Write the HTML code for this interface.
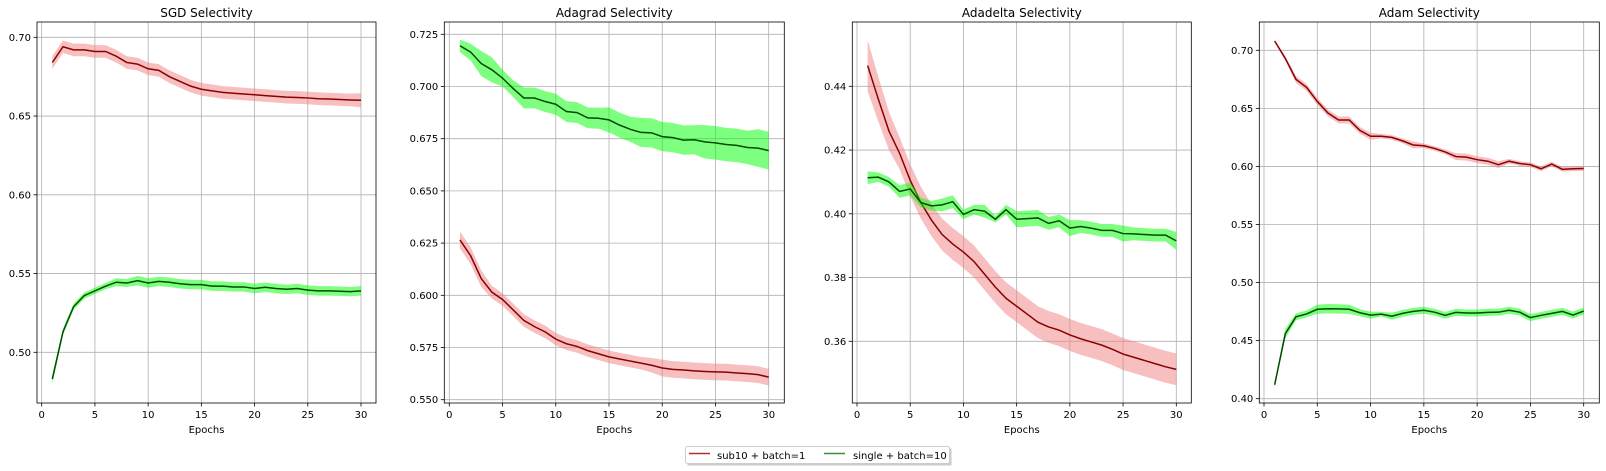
<!DOCTYPE html>
<html><head><meta charset="utf-8"><style>
body{margin:0;background:#fff;}
svg{display:block;font-family:"DejaVu Sans","Liberation Sans",sans-serif;}
</style></head><body>
<svg id="fig" width="1606" height="471" viewBox="0 0 1606 471" xmlns="http://www.w3.org/2000/svg">
<rect width="1606" height="471" fill="#fff"/>
<g>
<rect x="687.5" y="448.5" width="264" height="17" fill="#999" opacity="0.5"/>
<rect x="685.5" y="446.5" width="264" height="17" fill="#fff" stroke="#ccc" rx="2"/>
<line x1="689" y1="453.5" x2="710" y2="453.5" stroke="#a83232" stroke-width="1.5"/>
<text x="717" y="459" font-size="10" fill="#000">sub10 + batch=1</text>
<line x1="824" y1="453.5" x2="845" y2="453.5" stroke="#3a8a3a" stroke-width="1.5"/>
<text x="853" y="459" font-size="10" fill="#000">single + batch=10</text>
</g>
</svg>
<script>
const epochs = Array.from({length:30},(_,i)=>i+1);
const xTicks = [0,5,10,15,20,25,30];
const panelTitles = ["SGD Selectivity","Adagrad Selectivity","Adadelta Selectivity","Adam Selectivity"];

const sgdRed = [0.684,0.694,0.692,0.692,0.691,0.691,0.688,0.684,0.683,0.680,0.679,0.675,0.672,0.669,0.667,0.666,0.665,0.6645,0.664,0.6635,0.663,0.6625,0.662,0.6618,0.6615,0.661,0.6608,0.6605,0.6602,0.660];
const sgdRedStd = [0.004,0.004,0.004,0.004,0.004,0.004,0.004,0.004,0.004,0.004,0.004,0.004,0.004,0.004,0.004,0.004,0.004,0.004,0.004,0.004,0.004,0.004,0.004,0.004,0.004,0.004,0.004,0.004,0.004,0.0045];
const sgdGreen = [0.483,0.513,0.529,0.536,0.539,0.542,0.5445,0.544,0.5455,0.544,0.545,0.5445,0.5435,0.543,0.543,0.542,0.542,0.5415,0.5415,0.5405,0.5413,0.5405,0.540,0.5405,0.5395,0.539,0.539,0.5388,0.5385,0.539];
const sgdGreenStd = [0.003,0.002,0.002,0.002,0.002,0.002,0.0025,0.0025,0.003,0.003,0.003,0.003,0.003,0.003,0.003,0.003,0.003,0.003,0.003,0.003,0.003,0.003,0.003,0.003,0.003,0.003,0.003,0.003,0.003,0.003];

const adagradRed = [0.6265,0.619,0.608,0.6015,0.598,0.593,0.588,0.585,0.5825,0.579,0.5768,0.5755,0.5735,0.572,0.5705,0.5695,0.5685,0.5675,0.5665,0.5652,0.5645,0.5642,0.5638,0.5635,0.5633,0.5632,0.5628,0.5625,0.562,0.5608];
const adagradRedStd = [0.004,0.004,0.004,0.003,0.003,0.003,0.003,0.003,0.003,0.003,0.003,0.003,0.003,0.003,0.003,0.003,0.003,0.003,0.0035,0.004,0.004,0.004,0.004,0.004,0.004,0.004,0.004,0.004,0.004,0.004];
const adagradGreen = [0.7195,0.7165,0.711,0.708,0.704,0.699,0.6945,0.6945,0.6928,0.6915,0.688,0.6875,0.685,0.6848,0.684,0.6815,0.6795,0.678,0.6778,0.676,0.6755,0.6743,0.6745,0.6735,0.673,0.6722,0.6718,0.6708,0.6705,0.6693];
const adagradGreenStd = [0.003,0.004,0.006,0.006,0.004,0.004,0.005,0.005,0.005,0.005,0.005,0.005,0.005,0.005,0.006,0.006,0.006,0.007,0.007,0.007,0.007,0.007,0.007,0.008,0.008,0.008,0.008,0.008,0.009,0.009];

const adadeltaRed = [0.4465,0.436,0.426,0.419,0.4105,0.4035,0.398,0.3935,0.3905,0.388,0.385,0.381,0.377,0.3735,0.371,0.3685,0.366,0.3645,0.3635,0.362,0.3608,0.3598,0.3588,0.3575,0.356,0.355,0.354,0.353,0.352,0.3512];
const adadeltaRedStd = [0.008,0.007,0.006,0.005,0.005,0.005,0.005,0.005,0.005,0.005,0.005,0.005,0.005,0.005,0.005,0.005,0.005,0.005,0.005,0.005,0.005,0.005,0.005,0.005,0.005,0.005,0.005,0.005,0.005,0.005];
const adadeltaGreen = [0.4113,0.4115,0.410,0.407,0.4078,0.4035,0.4025,0.4028,0.4038,0.3998,0.4013,0.4008,0.3983,0.4013,0.3983,0.3985,0.3987,0.397,0.3978,0.3955,0.396,0.3955,0.3948,0.3948,0.3938,0.3937,0.3935,0.3933,0.3933,0.3915];
const adadeltaGreenStd = [0.002,0.0015,0.0015,0.002,0.002,0.0015,0.0015,0.002,0.002,0.0015,0.0015,0.002,0.001,0.0015,0.0025,0.0025,0.0025,0.002,0.002,0.0025,0.002,0.002,0.002,0.002,0.0025,0.002,0.002,0.002,0.002,0.0028];

const adamRed = [0.708,0.693,0.675,0.668,0.656,0.646,0.640,0.640,0.631,0.626,0.626,0.625,0.622,0.6185,0.6178,0.6155,0.6125,0.6085,0.608,0.6058,0.6045,0.6015,0.6045,0.6025,0.6015,0.598,0.602,0.5975,0.598,0.5982];
const adamRedStd = [0.001,0.002,0.003,0.003,0.003,0.003,0.003,0.003,0.003,0.003,0.002,0.002,0.002,0.003,0.002,0.002,0.002,0.003,0.003,0.003,0.003,0.003,0.002,0.002,0.002,0.002,0.002,0.002,0.002,0.002];
const adamGreen = [0.412,0.456,0.4705,0.473,0.477,0.4775,0.4773,0.477,0.474,0.472,0.4728,0.471,0.4735,0.4752,0.4762,0.4745,0.4718,0.4743,0.4738,0.4738,0.4743,0.4745,0.4762,0.4745,0.4698,0.4718,0.4735,0.4752,0.472,0.4755];
const adamGreenStd = [0.002,0.004,0.003,0.003,0.004,0.004,0.004,0.004,0.003,0.003,0.002,0.003,0.003,0.003,0.003,0.003,0.003,0.003,0.003,0.003,0.003,0.003,0.003,0.003,0.003,0.003,0.003,0.003,0.003,0.003];

const yTicksSGD = [0.50,0.55,0.60,0.65,0.70];
const yTicksAdagrad = [0.550,0.575,0.600,0.625,0.650,0.675,0.700,0.725];
const yTicksAdadelta = [0.36,0.38,0.40,0.42,0.44];
const yTicksAdam = [0.40,0.45,0.50,0.55,0.60,0.65,0.70];

const panels = [
 {key:'sgd',title:panelTitles[0],L:37,R:376,x0:41.7,x30:361,yA:0.70,pA:37.3,yB:0.50,pB:352.3,ticks:yTicksSGD,dec:2,red:sgdRed,redS:sgdRedStd,green:sgdGreen,greenS:sgdGreenStd},
 {key:'adagrad',title:panelTitles[1],L:444.3,R:784.3,x0:449.3,x30:768.7,yA:0.725,pA:34.3,yB:0.550,pB:399.7,ticks:yTicksAdagrad,dec:3,red:adagradRed,redS:adagradRedStd,green:adagradGreen,greenS:adagradGreenStd},
 {key:'adadelta',title:panelTitles[2],L:852.3,R:1191.3,x0:857,x30:1176.3,yA:0.44,pA:86.3,yB:0.36,pB:341.3,ticks:yTicksAdadelta,dec:2,red:adadeltaRed,redS:adadeltaRedStd,green:adadeltaGreen,greenS:adadeltaGreenStd},
 {key:'adam',title:panelTitles[3],L:1259.3,R:1599.3,x0:1264,x30:1583.7,yA:0.70,pA:50.3,yB:0.40,pB:398.7,ticks:yTicksAdam,dec:2,red:adamRed,redS:adamRedStd,green:adamGreen,greenS:adamGreenStd}
];
const TOP=22, BOT=403;
const NS='http://www.w3.org/2000/svg';
const svg=document.getElementById('fig');
function mk(tag,attrs,parent){const e=document.createElementNS(NS,tag);for(const k in attrs)e.setAttribute(k,attrs[k]);parent.appendChild(e);return e;}

panels.forEach(p=>{
  const xs=v=>p.x0+(v-0)*(p.x30-p.x0)/30;
  const ys=v=>p.pA+(p.yA-v)*(p.pB-p.pA)/(p.yA-p.yB);
  const g=mk('g',{},svg);
  
  
  // grid
  xTicks.forEach(t=>{
    const l=mk('line',{x1:xs(t),x2:xs(t),y1:TOP,y2:BOT,stroke:'#b0b0b0','stroke-width':0.8},g);
    
    
    const tk=mk('line',{x1:xs(t),x2:xs(t),y1:BOT,y2:BOT+3.5,stroke:'#000','stroke-width':0.8},g);
    
    
    const tx=mk('text',{x:xs(t),y:BOT+15,'font-size':10,'text-anchor':'middle',fill:'#000'},g);
    tx.textContent=t;
    
    
  });
  p.ticks.forEach(t=>{
    const y=ys(t);
    const l=mk('line',{x1:p.L,x2:p.R,y1:y,y2:y,stroke:'#b0b0b0','stroke-width':0.8},g);
    
    
    const tk=mk('line',{x1:p.L-3.5,x2:p.L,y1:y,y2:y,stroke:'#000','stroke-width':0.8},g);
    
    
    const tx=mk('text',{x:p.L-6,y:y+3.5,'font-size':10,'text-anchor':'end',fill:'#000'},g);
    tx.textContent=t.toFixed(p.dec);
    
    
  });
  // series
  [['red',p.red,p.redS,'#f08080','#8b0000'],['green',p.green,p.greenS,'#00ff00','#004d00']].forEach(([nm,m,s,fc,lc])=>{
    const up=epochs.map((e,i)=>xs(e)+','+ys(m[i]+s[i]));
    const dn=epochs.map((e,i)=>xs(e)+','+ys(m[i]-s[i])).reverse();
    const band=mk('polygon',{points:up.concat(dn).join(' '),fill:fc,'fill-opacity':0.5},g);
    
    
    const line=mk('polyline',{points:epochs.map((e,i)=>xs(e)+','+ys(m[i])).join(' '),fill:'none',stroke:lc,'stroke-width':1.5},g);
    
    
  });
  const fr=mk('rect',{x:p.L,y:TOP,width:p.R-p.L,height:BOT-TOP,fill:'none',stroke:'#000','stroke-width':0.8},g);
  
  
  const ti=mk('text',{x:(p.L+p.R)/2,y:17,'font-size':12,'text-anchor':'middle',fill:'#000'},g);
  ti.textContent=p.title;
  
  
  const xl=mk('text',{x:(p.L+p.R)/2,y:433,'font-size':10,'text-anchor':'middle',fill:'#000'},g);
  xl.textContent='Epochs';
  
  
});
</script>
</body></html>
